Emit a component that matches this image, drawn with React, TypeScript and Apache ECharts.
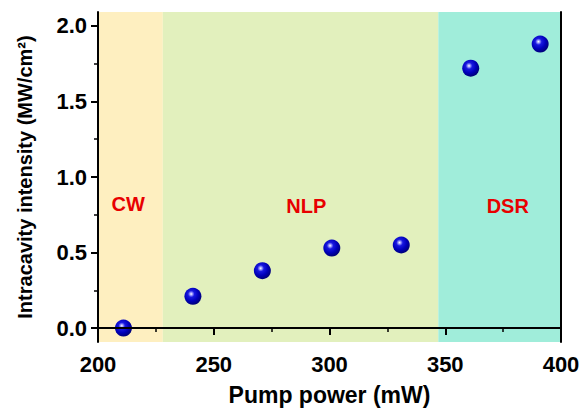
import React, { useEffect, useRef } from "react";
import * as echarts from "echarts";

// Data
const pumpPower = [211, 241, 271, 301, 331, 361, 391];
const intensity = [0, 0.21, 0.38, 0.53, 0.55, 1.72, 1.88];

const regionNames = ["CW", "NLP", "DSR"];
const regionStart = [200, 228, 347];
const regionEnd = [228, 347, 400];
const regionColors = ["#feefc0", "#e2f0bd", "#a0edda"];
const regionLabelX = [213, 290, 377];
const regionLabelY = [0.82, 0.81, 0.81];

const yMajorTicks = [0, 0.5, 1.0, 1.5, 2.0];
const yMinorTicks = [0.25, 0.75, 1.25, 1.75];

const X_MIN = 200;
const X_MAX = 400;
const Y_MIN = -0.092;
const Y_MAX = 2.092;

const FONT = "'Liberation Sans', Arial, sans-serif";

export default function App() {
  const ref = useRef<HTMLDivElement>(null);

  useEffect(() => {
    if (!ref.current) return;
    const chart = echarts.init(ref.current, undefined, { renderer: "svg" });

    const sphere = {
      type: "radial",
      x: 0.4,
      y: 0.36,
      r: 0.64,
      colorStops: [
        { offset: 0, color: "#ffffff" },
        { offset: 0.12, color: "#a0a0ff" },
        { offset: 0.3, color: "#1818e0" },
        { offset: 0.65, color: "#0000bb" },
        { offset: 1, color: "#00007a" },
      ],
    };

    const axisLine = { show: true, lineStyle: { color: "#000", width: 2 } };

    const option: any = {
      animation: false,
      backgroundColor: "#ffffff",
      grid: { left: 98, right: 23, top: 12, bottom: 68, containLabel: false },
      xAxis: [
        {
          type: "value",
          min: X_MIN,
          max: X_MAX,
          interval: 50,
          position: "bottom",
          z: 10,
          axisLine,
          axisTick: { show: true, length: 7, lineStyle: { color: "#000", width: 2 } },
          minorTick: { show: true, splitNumber: 2, length: 4, lineStyle: { color: "#000", width: 1.5 } },
          splitLine: { show: false },
          minorSplitLine: { show: false },
          axisLabel: {
            color: "#000",
            fontSize: 22,
            fontWeight: "bold",
            fontFamily: FONT,
            margin: 11,
          },
          name: "Pump power (mW)",
          nameLocation: "middle",
          nameGap: 41,
          nameTextStyle: { color: "#000", fontSize: 23, fontWeight: "bold", fontFamily: FONT },
        },
        {
          type: "value",
          min: X_MIN,
          max: X_MAX,
          interval: 50,
          position: "top",
          z: 10,
          axisLine,
          axisTick: { show: false },
          axisLabel: { show: false },
          splitLine: { show: false },
        },
      ],
      yAxis: [
        {
          type: "value",
          min: Y_MIN,
          max: Y_MAX,
          position: "left",
          z: 10,
          axisLine,
          axisTick: {
            show: true,
            length: 7,
            customValues: yMajorTicks,
            lineStyle: { color: "#000", width: 2 },
          },
          splitLine: { show: false },
          axisLabel: {
            customValues: yMajorTicks,
            formatter: (v: number) => v.toFixed(1),
            color: "#000",
            fontSize: 22,
            fontWeight: "bold",
            fontFamily: FONT,
            margin: 11,
          },
          name: "Intracavity intensity (MW/cm²)",
          nameLocation: "middle",
          nameGap: 63,
          nameTextStyle: { color: "#000", fontSize: 20, fontWeight: "bold", fontFamily: FONT },
        },
        {
          type: "value",
          min: Y_MIN,
          max: Y_MAX,
          position: "left",
          z: 10,
          axisLine: { show: false },
          axisTick: {
            show: true,
            length: 4,
            customValues: yMinorTicks,
            lineStyle: { color: "#000", width: 1.5 },
          },
          axisLabel: { show: false },
          splitLine: { show: false },
        },
        {
          type: "value",
          min: Y_MIN,
          max: Y_MAX,
          position: "right",
          z: 10,
          axisLine,
          axisTick: { show: false },
          axisLabel: { show: false },
          splitLine: { show: false },
        },
      ],
      series: [
        {
          type: "scatter",
          xAxisIndex: 0,
          yAxisIndex: 0,
          z: 3,
          symbol: "circle",
          symbolSize: 17,
          data: pumpPower.map((x, i) => [x, intensity[i]]),
          itemStyle: { color: sphere, opacity: 1 },
          markArea: {
            silent: true,
            data: regionNames.map((_, i) => [
              { xAxis: regionStart[i], itemStyle: { color: regionColors[i], opacity: 1 } },
              { xAxis: regionEnd[i] },
            ]),
          },
        },
        {
          type: "scatter",
          xAxisIndex: 0,
          yAxisIndex: 0,
          z: 4,
          silent: true,
          symbolSize: 1,
          itemStyle: { color: "rgba(0,0,0,0)", opacity: 1 },
          data: regionNames.map((n, i) => ({ value: [regionLabelX[i], regionLabelY[i]], name: n })),
          label: {
            show: true,
            position: "inside",
            formatter: (p: any) => p.name,
            color: "#e80000",
            opacity: 1,
            fontSize: 20,
            fontWeight: "bold",
            fontFamily: FONT,
          },
        },
      ],
    };

    chart.setOption(option);
    return () => chart.dispose();
  }, []);

  return (
    <div
      ref={ref}
      style={{ position: "fixed", left: 0, top: 0, width: 584, height: 411, background: "#fff" }}
    />
  );
}
